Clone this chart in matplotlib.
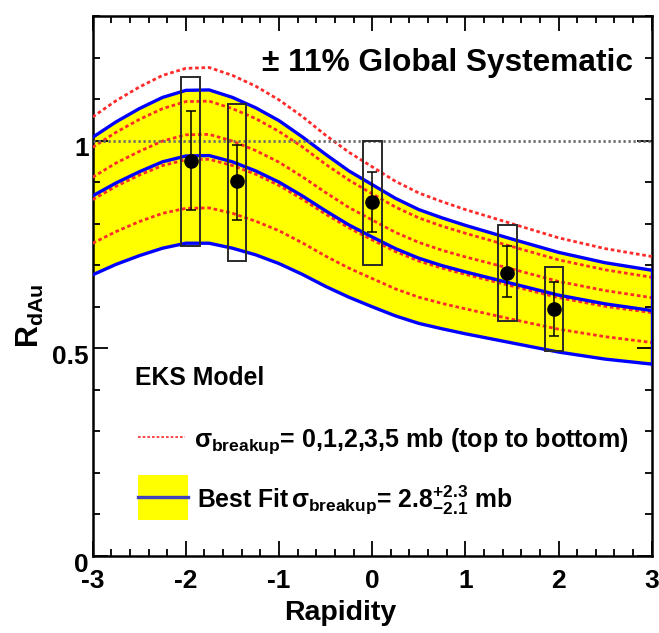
import matplotlib
matplotlib.use("Agg")
import matplotlib.pyplot as plt
from matplotlib.patches import Rectangle
from matplotlib.transforms import ScaledTranslation
from matplotlib.ticker import MultipleLocator, FixedLocator

plt.rcParams['font.family'] = ['Liberation Sans', 'DejaVu Sans']
plt.rcParams['font.weight'] = 'bold'
plt.rcParams['mathtext.fontset'] = 'custom'
plt.rcParams['mathtext.rm'] = 'Liberation Sans:bold'
plt.rcParams['mathtext.bf'] = 'Liberation Sans:bold'
plt.rcParams['mathtext.it'] = 'Liberation Sans:bold'
plt.rcParams['mathtext.sf'] = 'Liberation Sans:bold'

# ---------------- data ----------------
rapidity = [-3.0, -2.75, -2.5, -2.25, -2.0, -1.75, -1.5, -1.25, -1.0, -0.75, -0.5,
            -0.25, 0.0, 0.25, 0.5, 0.75, 1.0, 1.5, 2.0, 2.5, 3.0]

# EKS model, sigma_breakup = 0,1,2,3,5 mb (top to bottom)
sigma0 = [1.057, 1.096, 1.129, 1.157, 1.174, 1.176, 1.157, 1.131, 1.098, 1.058, 1.013,
          0.972, 0.937, 0.902, 0.874, 0.853, 0.834, 0.800, 0.766, 0.740, 0.721]
sigma1 = [0.984, 1.020, 1.051, 1.077, 1.094, 1.095, 1.077, 1.053, 1.022, 0.985, 0.943,
          0.905, 0.872, 0.840, 0.814, 0.794, 0.777, 0.745, 0.713, 0.689, 0.671]
sigma2 = [0.912, 0.946, 0.974, 0.999, 1.014, 1.015, 0.999, 0.976, 0.948, 0.913, 0.875,
          0.839, 0.809, 0.779, 0.755, 0.736, 0.720, 0.691, 0.661, 0.639, 0.622]
sigma3 = [0.858, 0.890, 0.917, 0.940, 0.954, 0.955, 0.940, 0.919, 0.892, 0.859, 0.823,
          0.790, 0.761, 0.733, 0.710, 0.693, 0.678, 0.650, 0.622, 0.601, 0.586]
sigma5 = [0.753, 0.781, 0.805, 0.825, 0.837, 0.838, 0.825, 0.806, 0.783, 0.754, 0.722,
          0.693, 0.668, 0.643, 0.623, 0.608, 0.595, 0.570, 0.546, 0.528, 0.514]

# best fit (2.8 mb) and its band
best_fit = [0.867, 0.898, 0.925, 0.949, 0.963, 0.964, 0.949, 0.927, 0.900, 0.867, 0.831,
            0.797, 0.768, 0.740, 0.717, 0.699, 0.684, 0.656, 0.628, 0.607, 0.591]
best_upper = [1.008, 1.045, 1.077, 1.104, 1.121, 1.122, 1.104, 1.079, 1.048, 1.009, 0.967,
              0.927, 0.894, 0.861, 0.834, 0.814, 0.796, 0.763, 0.731, 0.706, 0.688]
best_lower = [0.677, 0.702, 0.723, 0.741, 0.753, 0.753, 0.741, 0.725, 0.704, 0.678, 0.649,
              0.623, 0.600, 0.578, 0.560, 0.547, 0.535, 0.513, 0.491, 0.474, 0.462]

# measured points
pt_y = [-1.95, -1.45, 0.0, 1.45, 1.95]
pt_r = [0.952, 0.902, 0.852, 0.682, 0.594]
stat_hi = [1.071, 0.989, 0.924, 0.746, 0.659]
stat_lo = [0.834, 0.809, 0.781, 0.624, 0.530]
sys_hi = [1.154, 1.089, 1.000, 0.797, 0.695]
sys_lo = [0.747, 0.709, 0.701, 0.565, 0.493]

xtick_vals = [-3, -2, -1, 0, 1, 2, 3]
xtick_labels = ['-3', '-2', '-1', '0', '1', '2', '3']
ytick_vals = [0, 0.5, 1]
ytick_labels = ['0', '0.5', '1']

# ---------------- figure ----------------
W, H = 659, 633
fig = plt.figure(figsize=(W / 100, H / 100), dpi=100)
ax = fig.add_axes([92.7 / W, 1 - 556 / H, (651.7 - 92.7) / W, (556 - 16) / H])

ax.fill_between(rapidity, best_lower, best_upper, color='#ffff00', lw=0, zorder=1)

red_style = dict(color='#ff2a2a', lw=2.0, ls=(0, (1.3, 1.0)), zorder=3)
for s in (sigma0, sigma1, sigma2, sigma3, sigma5):
    ax.plot(rapidity, s, **red_style)

for s in (best_upper, best_fit, best_lower):
    ax.plot(rapidity, s, color='#0000ff', lw=2.4, zorder=4)
ax.plot([rapidity[-1], rapidity[-1]], [best_lower[-1], best_upper[-1]],
        color='#0000ff', lw=2.4, zorder=4)

ax.axhline(1.0, color='#6a6a6a', lw=2.0, ls=(0, (0.8, 1.0)), zorder=5)

# systematic boxes
half_w = 0.1
for x, lo, hi in zip(pt_y, sys_lo, sys_hi):
    ax.add_patch(Rectangle((x - half_w, lo), 2 * half_w, hi - lo, fill=False,
                           edgecolor='#2a2a2a', lw=1.4, zorder=6))

# stat error bars
yerr = [[r - l for r, l in zip(pt_r, stat_lo)], [h - r for r, h in zip(pt_r, stat_hi)]]
ax.errorbar(pt_y, pt_r, yerr=yerr, fmt='o', color='black', ms=9.5, lw=1.1,
            capsize=3.5, capthick=1.1, zorder=7)

ax.set_xlim(-3, 3)
ax.set_ylim(0, 1.3)

ax.xaxis.set_major_locator(FixedLocator(xtick_vals))
ax.set_xticklabels(xtick_labels)
ax.xaxis.set_minor_locator(MultipleLocator(0.2))
ax.yaxis.set_major_locator(FixedLocator(ytick_vals))
ax.set_yticklabels(ytick_labels)
ax.yaxis.set_minor_locator(MultipleLocator(0.1))

ax.tick_params(which='both', direction='in', top=True, right=True, width=1.3,
               labelsize=19, colors='black')
ax.tick_params(which='major', length=11)
ax.tick_params(which='minor', length=5)
ax.tick_params(axis='x', which='major', pad=9)
ax.tick_params(axis='y', which='major', pad=3)
for sp in ax.spines.values():
    sp.set_linewidth(1.8)

off = ScaledTranslation(0, -6 / 100, fig.dpi_scale_trans)
for lab in ax.get_yticklabels():
    lab.set_transform(lab.get_transform() + off)
    lab.set_fontweight('bold')
for lab in ax.get_xticklabels():
    lab.set_fontweight('bold')

# axis titles
fig.text(340 / W, 1 - 613 / H, 'Rapidity', ha='center', va='center', fontsize=20.5,
         fontweight='bold')
fig.text(30 / W, 1 - 316 / H, r'$\mathrm{R}_{\mathrm{dAu}}$', ha='center', va='center',
         rotation=90, fontsize=22)

# annotations
ax.text(0.303, 0.899, '\u00b1 11% Global Systematic', transform=ax.transAxes,
        ha='left', va='baseline', fontsize=22.8, fontweight='bold')
ax.text(0.076, 0.317, 'EKS Model', transform=ax.transAxes, ha='left', va='baseline',
        fontsize=17.8, fontweight='bold')

ax.plot([0.081, 0.165], [0.220, 0.220], transform=ax.transAxes, color='#ff2a2a',
        lw=1.2, ls=(0, (1.6, 1.2)), zorder=8)
ax.text(0.181, 0.202,
        r'$\sigma_{\mathrm{breakup}}$= 0,1,2,3,5 mb (top to bottom)',
        transform=ax.transAxes, ha='left', va='baseline', fontsize=18)

ax.add_patch(Rectangle((0.081, 0.0667), 0.09, 0.083, transform=ax.transAxes,
                       facecolor='#ffff00', edgecolor='none', zorder=8))
ax.plot([0.081, 0.171], [0.109, 0.109], transform=ax.transAxes, color='#4040c0',
        lw=2.4, zorder=9)
ax.text(0.187, 0.089, r'Best Fit$\,\sigma_{\mathrm{breakup}}$= 2.8$^{+2.3}_{-2.1}$ mb',
        transform=ax.transAxes, ha='left', va='baseline', fontsize=17.8)

fig.savefig('out.png', dpi=100)
